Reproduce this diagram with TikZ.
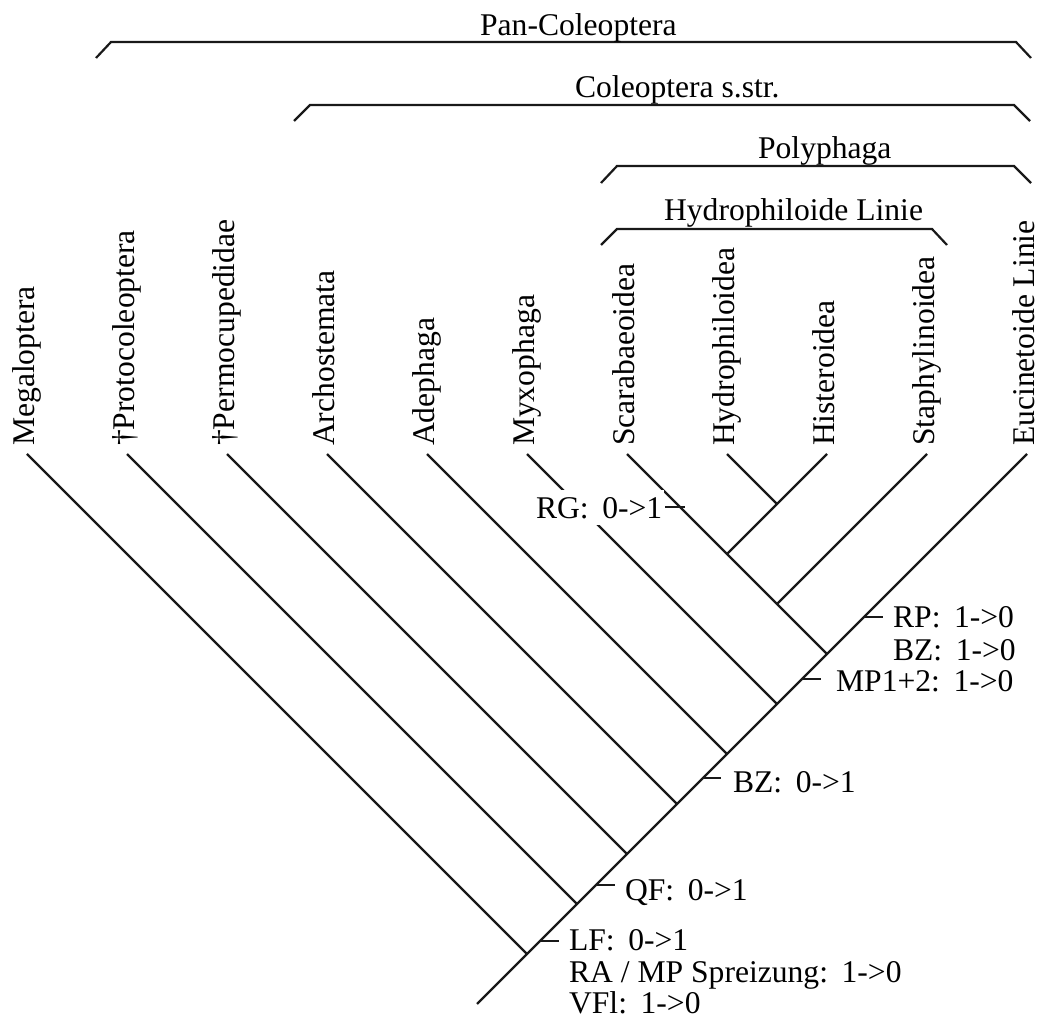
\documentclass[tikz,border=0pt]{standalone}
\usepackage{fontspec}
\setmainfont{Liberation Serif}
\usetikzlibrary{calc}
\newcommand\chgap{\hspace{0.43em}}
\begin{document}
\begin{tikzpicture}[x=0.5pt,y=-0.5pt,
  line width=1.1pt,
  lab/.style={font=\fontsize{15.8}{19}\selectfont, inner sep=0pt, anchor=base west},
  taxon/.style={lab, rotate=90},
  branch/.style={line width=1.1pt, color=black!90},
  cladebar/.style={line width=1.1pt, color=black!90},
  tickmark/.style={line width=1.1pt, color=black!90},
]
\useasboundingbox (0,0) rectangle (1039,1021);

% ---- tips of the terminal taxa ----
\foreach \i in {0,...,10} \coordinate (t\i) at ({27+100*\i},454);

% ---- internal nodes ----
\coordinate (root) at (477,1004);
\coordinate (n0) at (527,954);
\coordinate (n1) at (577,904);
\coordinate (n2) at (627,854);
\coordinate (n3) at (677,804);
\coordinate (n4) at (727,754);
\coordinate (n5) at (777,704);
\coordinate (n6) at (827,654);
\coordinate (st) at (777,604);
\coordinate (hs) at (727,554);
\coordinate (hh) at (777,504);

% ---- branches ----
\draw[branch] (root) -- (t10);
\foreach \i in {0,...,6} \draw[branch] (t\i) -- (n\i);
\draw[branch] (t9) -- (st);
\draw[branch] (t8) -- (hs);
\draw[branch] (t7) -- (hh);

% ---- terminal labels ----
\node[taxon] (megal) at ($(t0)+(7.5,-7)$) {Megaloptera};
\node[taxon] (proto) at ($(t1)+(7.5,-7)$) {†Protocoleoptera};
\node[taxon] (permo) at ($(t2)+(7.5,-7)$) {†Permocupedidae};
\node[taxon] (archo) at ($(t3)+(7.5,-7)$) {Archostemata};
\node[taxon] (adeph) at ($(t4)+(7.5,-7)$) {Adephaga};
\node[taxon] (myxo)  at ($(t5)+(7.5,-7)$) {Myxophaga};
\node[taxon] (scara) at ($(t6)+(7.5,-7)$) {Scarabaeoidea};
\node[taxon] (hydro) at ($(t7)+(7.5,-7)$) {Hydrophiloidea};
\node[taxon] (hist)  at ($(t8)+(7.5,-7)$) {Histeroidea};
\node[taxon] (staph) at ($(t9)+(7.5,-7)$) {Staphylinoidea};
\node[taxon] (eucin) at ($(t10)+(7,-7)$) {Eucinetoide Linie};

% ---- clade brackets ----
\coordinate (panA) at (96,58);   \coordinate (panB) at (111,42);
\coordinate (panC) at (1016,42); \coordinate (panD) at (1031,58);
\draw[cladebar] (panA) -- (panB) -- (panC) -- (panD);
\node[lab] (pan) at (479,36) {Pan-Coleoptera};

\coordinate (colA) at (294,121);  \coordinate (colB) at (310,105);
\coordinate (colC) at (1014,105); \coordinate (colD) at (1030,121);
\draw[cladebar] (colA) -- (colB) -- (colC) -- (colD);
\node[lab] (col) at (574,98) {Coleoptera s.str.};

\coordinate (polA) at (601,183);  \coordinate (polB) at (617,166);
\coordinate (polC) at (1014,166); \coordinate (polD) at (1031,183);
\draw[cladebar] (polA) -- (polB) -- (polC) -- (polD);
\node[lab] (pol) at (757,159) {Polyphaga};

\coordinate (hydA) at (601,245);  \coordinate (hydB) at (617,229);
\coordinate (hydC) at (932,229);  \coordinate (hydD) at (947,245);
\draw[cladebar] (hydA) -- (hydB) -- (hydC) -- (hydD);
\node[lab] (hyd) at (663,221) {Hydrophiloide Linie};

% ---- character changes ----
\coordinate (kLF) at (540,941);
\draw[tickmark] (kLF) -- ++(19,0);
\node[lab] (cLF) at (568,950) {LF:\chgap 0->1};
\node[lab] (cRA) at (568,982) {RA / MP Spreizung:\chgap 1->0};
\node[lab] (cVF) at (568,1013) {VFl:\chgap 1->0};

\coordinate (kQF) at (596,885);
\draw[tickmark] (kQF) -- ++(19,0);
\node[lab] (cQF) at (624,900) {QF:\chgap 0->1};

\coordinate (kBZ) at (703,778);
\draw[tickmark] (kBZ) -- ++(18,0);
\node[lab] (cBZ) at (732,792) {BZ:\chgap 0->1};

\coordinate (kMP) at (802,679);
\draw[tickmark] (kMP) -- ++(19,0);
\node[lab] (cMP) at (835,691) {MP1+2:\chgap 1->0};

\coordinate (kRP) at (864,617);
\draw[tickmark] (kRP) -- ++(19,0);
\node[lab] (cRP) at (892,627) {RP:\chgap 1->0};
\node[lab] (cBZb) at (892,660) {BZ:\chgap 1->0};

\node[lab, fill=white, inner xsep=1pt, inner ysep=3.5pt] (cRG) at (533,518) {RG:\chgap 0->1};
\coordinate (kRG) at (680,507);
\draw[tickmark] ($(kRG)+(-15,0)$) -- ($(kRG)+(5,0)$);
\end{tikzpicture}
\end{document}
